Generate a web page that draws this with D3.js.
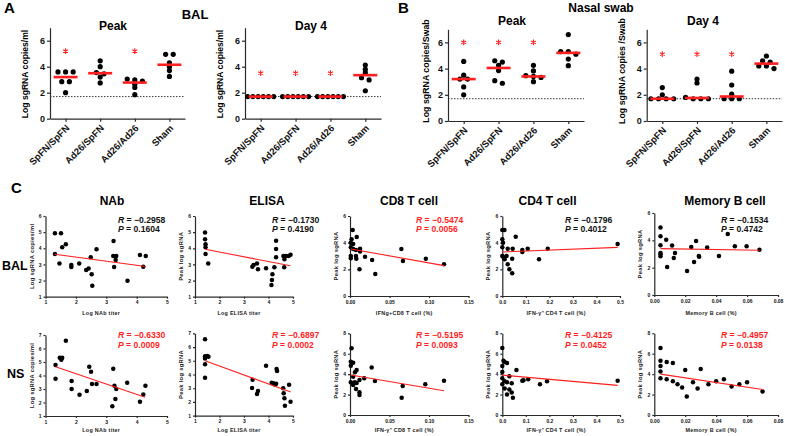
<!DOCTYPE html>
<html><head><meta charset="utf-8">
<script src="https://cdn.jsdelivr.net/npm/d3@7"></script>
<style>
body{margin:0;background:#fff;}
svg{display:block;font-family:Arial,"Liberation Sans",Helvetica,sans-serif;}
</style></head><body><svg id="c" width="785" height="436"></svg>
<script>
// ---------------- DATA ----------------
const groups = ["SpFN/SpFN", "Ad26/SpFN", "Ad26/Ad26", "Sham"];
const dotTicks = [0, 2, 4, 6];
const lod = 1.7;

// Panel A: BAL
const balPeakVals = [[3.6,3.6,3.6,2.85,2.85,2.0],[4.45,4.0,3.55,3.45,3.2,2.75],[3.05,2.98,2.9,2.65,2.4,1.85],[4.95,4.95,4.3,4.0,3.7,3.25]];
const balPeakMed = [3.2, 3.5, 2.78, 4.15];
const balPeakStar = [5.2, null, 5.2, null];
const balDay4Vals = [[1.7,1.7,1.7,1.7,1.7,1.7],[1.7,1.7,1.7,1.7,1.7,1.7],[1.7,1.7,1.7,1.7,1.7,1.7],[4.13,3.8,3.54,3.15,2.98,2.15]];
const balDay4Med = [1.7, 1.7, 1.7, 3.35];
const balDay4Star = [3.5, 3.5, 3.5, null];
// Panel B: Nasal swab
const nsPeakVals = [[4.55,3.5,3.2,3.2,2.6,2.0],[4.6,4.5,4.25,3.85,3.08,2.88],[4.25,3.82,3.46,3.4,3.33,3.0],[6.6,5.3,5.3,5.1,4.73,4.22]];
const nsPeakMed = [3.2, 4.05, 3.4, 5.2];
const nsPeakStar = [6.0, 6.0, 6.0, null];
const nsDay4Vals = [[2.55,2.0,1.7,1.7,1.7,1.7],[3.2,2.9,1.8,1.7,1.7,1.7],[3.8,2.75,2.05,1.7,1.7,1.7],[4.96,4.6,4.5,4.2,4.2,4.0]];
const nsDay4Med = [1.7, 1.76, 1.87, 4.38];
const nsDay4Star = [5.1, 5.1, 5.1, null];

// Panel C: correlations  [x, y]
const nabBal = [[1.31,4.93],[1.51,4.93],[1.55,4.06],[1.67,4.25],[1.31,3.65],[1.46,3.05],[1.85,2.96],[1.85,2.84],[2.11,3.05],[2.34,2.65],[2.42,2.74],[2.49,3.44],[2.68,3.94],[2.52,2.39],[2.54,1.68],[3.24,4.45],[3.23,3.52],[3.33,3.52],[3.31,3.27],[3.26,2.84],[3.70,1.99],[4.11,3.58],[4.30,3.52],[4.22,2.86]];
const nabBalFit = [[1.3,3.63],[4.3,2.87]];
const elisaBal = [[1.41,4.97],[1.41,4.56],[1.43,4.25],[1.43,4.06],[1.43,3.65],[1.54,3.05],[3.34,2.86],[3.39,2.96],[3.53,3.05],[3.57,2.70],[3.90,2.76],[4.31,4.47],[4.31,3.95],[4.31,3.44],[4.24,2.82],[4.16,2.39],[4.14,2.03],[4.12,1.72],[4.61,3.52],[4.70,3.52],[4.65,3.32],[4.64,2.82],[4.82,3.52],[4.90,3.60]];
const elisaBalFit = [[1.41,3.94],[4.89,2.92]];
const cd8Bal = [[0.0034,4.95],[0.002,4.25],[0.001,4.0],[0.0085,4.43],[0.004,3.9],[0.001,3.65],[0.004,3.53],[0.0075,3.45],[0.0127,3.55],[0.0127,3.33],[0.001,3.0],[0.001,2.83],[0.0075,3.0],[0.008,2.8],[0.019,2.95],[0.028,2.7],[0.012,2.0],[0.032,1.65],[0.065,3.53],[0.067,2.63],[0.096,2.8],[0.119,2.38]];
const cd8BalFit = [[0.001,3.53],[0.119,2.28]];
const cd4Bal = [[0.0,4.95],[0.009,4.95],[0.0,4.25],[0.003,4.0],[0.0,3.65],[0.023,3.55],[0.044,3.55],[0.057,4.45],[0.0,3.0],[0.005,2.9],[0.018,3.0],[0.01,2.75],[0.042,2.8],[0.023,2.38],[0.03,2.0],[0.042,1.7],[0.085,3.45],[0.085,3.3],[0.108,3.55],[0.156,2.75],[0.193,3.55],[0.49,3.9]];
const cd4BalFit = [[0,3.3],[0.49,3.65]];
const memBal = [[0.004,4.93],[0.004,4.3],[0.0077,4.05],[0.004,3.64],[0.0115,3.62],[0.004,3.07],[0.004,2.98],[0.004,2.83],[0.0134,3.07],[0.0126,2.71],[0.0083,2.05],[0.0212,1.76],[0.0239,3.51],[0.027,3.95],[0.0257,2.41],[0.0288,2.85],[0.029,2.8],[0.0342,3.47],[0.0418,2.85],[0.0475,4.46],[0.0521,3.56],[0.0597,3.56],[0.068,3.32]];
const memBalFit = [[0.004,3.39],[0.068,3.27]];

const nabNs = [[1.33,4.78],[1.33,3.76],[1.47,5.32],[1.53,5.27],[1.55,5.32],[1.52,5.17],[1.67,6.58],[1.86,3.59],[1.86,3.0],[2.12,2.58],[2.36,2.85],[2.44,4.65],[2.5,4.28],[2.53,3.37],[2.68,3.37],[3.23,4.5],[3.27,3.25],[3.33,3.0],[3.3,2.26],[3.2,1.72],[3.69,3.47],[4.11,2.06],[4.22,2.6],[4.29,3.25]];
const nabNsFit = [[1.33,4.65],[4.28,2.39]];
const elisaNs = [[1.41,6.56],[1.41,5.32],[1.5,5.35],[1.55,5.3],[1.41,5.16],[1.41,4.74],[1.41,3.77],[3.35,3.62],[3.33,3.02],[3.53,2.58],[3.57,2.8],[3.9,4.64],[4.13,3.4],[4.2,3.36],[4.27,3.25],[4.31,3.33],[4.33,4.4],[4.35,4.25],[4.6,3.0],[4.62,2.63],[4.65,2.27],[4.67,1.73],[4.84,3.25],[4.9,2.02]];
const elisaNsFit = [[1.41,5.0],[4.9,2.72]];
const cd8Ns = [[0.002,6.53],[0.001,5.22],[0.004,5.12],[0.001,4.83],[0.0063,4.18],[0.0084,4.4],[0.004,3.75],[0.001,3.2],[0.004,3.07],[0.006,3.2],[0.0084,3.13],[0.004,2.94],[0.012,3.43],[0.018,3.6],[0.0076,2.55],[0.012,2.22],[0.012,1.96],[0.0274,4.64],[0.0316,3.33],[0.0667,2.84],[0.0654,1.7],[0.0953,3.0],[0.119,3.36]];
const cd8NsFit = [[0.001,3.92],[0.119,2.38]];
const cd4Ns = [[0.0,6.55],[0.005,5.3],[0.01,5.2],[0.0,4.8],[0.02,5.1],[0.06,4.4],[0.0,4.2],[0.03,3.8],[0.0,3.6],[0.01,3.3],[0.02,3.2],[0.04,3.1],[0.0,3.0],[0.09,3.4],[0.085,3.35],[0.11,3.5],[0.01,2.6],[0.03,2.5],[0.04,2.2],[0.16,3.0],[0.19,3.3],[0.02,2.0],[0.045,1.7],[0.49,3.35]];
const cd4NsFit = [[0,3.9],[0.49,2.9]];
const memNs = [[0.004,6.55],[0.004,5.3],[0.008,5.2],[0.004,4.8],[0.012,5.1],[0.02,4.4],[0.004,4.25],[0.03,4.5],[0.045,3.5],[0.055,3.0],[0.07,2.3],[0.035,3.0],[0.012,3.3],[0.025,3.2],[0.04,3.3],[0.028,2.6],[0.021,1.8],[0.008,3.5],[0.015,3.0],[0.06,3.2],[0.05,2.8],[0.004,3.6],[0.018,2.7]];
const memNsFit = [[0.004,4.0],[0.07,2.5]];

const statR = [["−0.2958","−0.1730","−0.5474","−0.1796","−0.1534"],["−0.6330","−0.6897","−0.5195","−0.4125","−0.4957"]];
const statP = [["0.1604","0.4190","0.0056","0.4012","0.4742"],["0.0009","0.0002","0.0093","0.0452","0.0138"]];

// ---------------- DRAWING ----------------
const svg = d3.select("#c");
const RED = "#ff1f1f";
const AX = "#2a2a2a";

function styleAxis(a, fs) {
  a.selectAll("path,line").attr("stroke", AX).attr("stroke-width", 1.2);
  a.selectAll("text").attr("fill", "#111").attr("font-weight", "bold").attr("font-size", fs).attr("font-family", "Arial, Liberation Sans, sans-serif");
}

function dotPanel(o) {
  const g = svg.append("g");
  const y = d3.scaleLinear().domain([0, 7]).range([o.y0, o.y0 - 7 * o.unit]);
  const x = d3.scalePoint().domain(groups).range([o.x0, o.x1]).padding(0.45);
  const ya = g.append("g").attr("transform", `translate(${o.x0},0)`)
    .call(d3.axisLeft(y).tickValues(dotTicks).tickSize(3).tickSizeOuter(0).tickPadding(2).tickFormat(d3.format("d")));
  styleAxis(ya, 9);
  const xa = g.append("g").attr("transform", `translate(0,${o.y0})`)
    .call(d3.axisBottom(x).tickSize(3).tickSizeOuter(0));
  styleAxis(xa, 9.5);
  xa.selectAll("text").attr("x", 0).attr("y", 0).attr("dy", 0)
    .attr("text-anchor", "end").attr("transform", "translate(4,10) rotate(-45)");
  g.append("line").attr("x1", o.x0).attr("x2", o.x1).attr("y1", y(lod)).attr("y2", y(lod))
    .attr("stroke", "#333").attr("stroke-width", 1).attr("stroke-dasharray", "1.5,1.5");
  o.vals.forEach((vals, gi) => {
    const sorted = vals.slice().sort((a, b) => b - a);
    const bins = [];
    sorted.forEach((v, i) => {
      if (i > 0 && Math.abs(sorted[i - 1] - v) <= 0.21) bins[bins.length - 1].push(v);
      else bins.push([v]);
    });
    bins.forEach(b => {
      const n = b.length;
      const sp = n > 1 ? Math.min(7.6, 26 / (n - 1)) : 0;
      b.forEach((v, k) => {
        g.append("circle").attr("cx", x(groups[gi]) + (k - (n - 1) / 2) * sp).attr("cy", y(v))
          .attr("r", 2.6).attr("fill", "#000");
      });
    });
    g.append("line").attr("x1", x(groups[gi]) - 12).attr("x2", x(groups[gi]) + 12)
      .attr("y1", y(o.med[gi])).attr("y2", y(o.med[gi])).attr("stroke", RED).attr("stroke-width", 2.6);
    if (o.star[gi] != null) {
      g.append("path").attr("d", d3.symbol(d3.symbolAsterisk, 22)())
        .attr("transform", `translate(${x(groups[gi])},${y(o.star[gi])})`)
        .attr("stroke", RED).attr("stroke-width", 1.1).attr("fill", "none");
    }
  });
  g.append("text").attr("x", o.tx).attr("y", o.ty).attr("text-anchor", "middle")
    .attr("font-weight", "bold").attr("font-size", 12).text(o.title);
  g.append("text").attr("transform", `translate(${o.lx},${o.ly}) rotate(-90)`).attr("text-anchor", "middle")
    .attr("font-weight", "bold").attr("font-size", o.lfs).text(o.ylabel);
}

dotPanel({x0: 50, x1: 185, y0: 118.7, unit: 13, vals: balPeakVals, med: balPeakMed, star: balPeakStar,
  title: "Peak", tx: 113, ty: 30, ylabel: "Log sgRNA copies/ml", lx: 28, ly: 74, lfs: 8.6});
dotPanel({x0: 245, x1: 381, y0: 118.7, unit: 13, vals: balDay4Vals, med: balDay4Med, star: balDay4Star,
  title: "Day 4", tx: 311, ty: 30, ylabel: "Log sgRNA copies/ml", lx: 223, ly: 74, lfs: 8.6});
dotPanel({x0: 448, x1: 584, y0: 121, unit: 13.1, vals: nsPeakVals, med: nsPeakMed, star: nsPeakStar,
  title: "Peak", tx: 512, ty: 25, ylabel: "Log sgRNA copies/Swab", lx: 429, ly: 71, lfs: 8.8});
dotPanel({x0: 646.7, x1: 782, y0: 121, unit: 13.1, vals: nsDay4Vals, med: nsDay4Med, star: nsDay4Star,
  title: "Day 4", tx: 703, ty: 25, ylabel: "Log sgRNA copies /Swab", lx: 625, ly: 71, lfs: 8.8});

function bigText(t, x, y, fs, anchor) {
  svg.append("text").attr("x", x).attr("y", y).attr("font-weight", "bold").attr("font-size", fs)
    .attr("text-anchor", anchor || "start").text(t);
}
bigText("A", 4, 13, 15);
bigText("BAL", 195, 19, 13, "middle");
bigText("B", 398, 13, 15);
bigText("Nasal swab", 601, 12, 12, "middle");
bigText("C", 11, 193, 15);
bigText("BAL", 2, 270, 12.5);
bigText("NS", 7, 378, 12.5);

// ---- Panel C ----
const cols = [
  {ax: 45.5, ax1: 167, xd: [1, 5], xt: [1, 2, 3, 4, 5], xf: d3.format("d"), title: "NAb", tx: 112,
   xl: ["Log NAb titer", "Log NAb titer"], yl: ["Log sgRNA copies/ml", "Log sgRNA copies/ml"], sx: 118},
  {ax: 195, ax1: 293, xd: [1, 5], xt: [1, 2, 3, 4, 5], xf: d3.format("d"), title: "ELISA", tx: 267,
   xl: ["Log ELISA titer", "Log ELISA titer"], yl: ["Peak log sgRNA", "Peak log sgRNA"], sx: 272},
  {ax: 350, ax1: 468.5, xd: [0, 0.15], xt: [0, 0.05, 0.10, 0.15], xf: d3.format(".2f"), title: "CD8 T cell", tx: 409,
   xl: ["IFNg+CD8 T cell (%)", "IFN-γ⁺ CD8 T cell (%)"], yl: ["Peak log sgRNA", "Peak log sgRNA"], sx: 416},
  {ax: 502.3, ax1: 620, xd: [0, 0.5], xt: [0, 0.1, 0.2, 0.3, 0.4, 0.5], xf: d3.format(".1f"), title: "CD4 T cell", tx: 547.5,
   xl: ["IFN-γ⁺ CD4 T cell (%)", "IFN-γ⁺ CD4 T cell (%)"], yl: ["Peak log sgRNA", "Peak log sgRNA"], sx: 565},
  {ax: 654.3, ax1: 778, xd: [0, 0.08], xt: [0, 0.02, 0.04, 0.06, 0.08], xf: d3.format(".2f"), title: "Memory B cell", tx: 725,
   xl: ["Memory B cell (%)", "Memory B cell (%)"], yl: ["Peak log sgRNA", "Peak log sgRNA"], sx: 721}
];
const rows = [
  {data: [nabBal, elisaBal, cd8Bal, cd4Bal, memBal], fits: [nabBalFit, elisaBalFit, cd8BalFit, cd4BalFit, memBalFit],
   yd: [[1, 6], [1, 6], [0, 6], [0, 6], [0, 6]], yb: [296.7, 296.7, 296, 296, 295], yt: [216, 216, 216, 216, 213],
   ry: 222.5, xly: 314.5},
  {data: [nabNs, elisaNs, cd8Ns, cd4Ns, memNs], fits: [nabNsFit, elisaNsFit, cd8NsFit, cd4NsFit, memNsFit],
   yd: [[1, 7], [1, 7], [0, 8], [0, 8], [0, 8]], yb: [416, 415.7, 415, 415, 415], yt: [335, 333.3, 333.3, 333.3, 333.3],
   ry: 338, xly: 432}
];

cols.forEach(c => bigText(c.title, c.tx, 205, 12, "middle"));

rows.forEach((r, ri) => {
  cols.forEach((c, ci) => {
    const g = svg.append("g");
    const x = d3.scaleLinear().domain(c.xd).range([c.ax, c.ax1]);
    const y = d3.scaleLinear().domain(r.yd[ci]).range([r.yb[ci], r.yt[ci]]);
    const yTicks = d3.range(r.yd[ci][0], r.yd[ci][1] + 0.001, (r.yd[ci][0] === 0) ? 2 : 1);
    const ya = g.append("g").attr("transform", `translate(${c.ax},0)`)
      .call(d3.axisLeft(y).tickValues(yTicks).tickSize(2).tickSizeOuter(0).tickPadding(2).tickFormat(d3.format("d")));
    styleAxis(ya, 5);
    const xa = g.append("g").attr("transform", `translate(0,${r.yb[ci]})`)
      .call(d3.axisBottom(x).tickValues(c.xt).tickSize(2).tickSizeOuter(0).tickPadding(2).tickFormat(c.xf));
    styleAxis(xa, 5);
    g.selectAll("circle.pt").data(r.data[ci]).join("circle").attr("class", "pt")
      .attr("cx", d => x(d[0])).attr("cy", d => y(d[1])).attr("r", 2.25).attr("fill", "#000");
    g.append("path").datum(r.fits[ci]).attr("d", d3.line().x(d => x(d[0])).y(d => y(d[1])))
      .attr("stroke", RED).attr("stroke-width", 1.1).attr("fill", "none");
    const sig = parseFloat(statP[ri][ci]) < 0.05;
    const col = sig ? RED : "#111";
    const t1 = g.append("text").attr("x", c.sx).attr("y", r.ry).attr("font-size", 8.6).attr("font-weight", "bold").attr("fill", col);
    t1.append("tspan").attr("font-style", "italic").text("R");
    t1.append("tspan").text(" = " + statR[ri][ci]);
    const t2 = g.append("text").attr("x", c.sx).attr("y", r.ry + 9.8).attr("font-size", 8.6).attr("font-weight", "bold").attr("fill", col);
    t2.append("tspan").attr("font-style", "italic").text("P");
    t2.append("tspan").text(" = " + statP[ri][ci]);
    g.append("text").attr("x", (c.ax + c.ax1) / 2 - 5).attr("y", r.xly).attr("text-anchor", "middle")
      .attr("font-size", 5.4).attr("font-weight", "bold").attr("letter-spacing", 0.3).attr("fill", "#222").text(c.xl[ri]);
    g.append("text").attr("transform", `translate(${c.ax - 12},${(r.yb[ci] + r.yt[ci]) / 2}) rotate(-90)`)
      .attr("text-anchor", "middle").attr("font-size", 5.8).attr("font-weight", "bold").attr("letter-spacing", 0.3)
      .attr("fill", "#222").text(c.yl[ri]);
  });
});
</script></body></html>
